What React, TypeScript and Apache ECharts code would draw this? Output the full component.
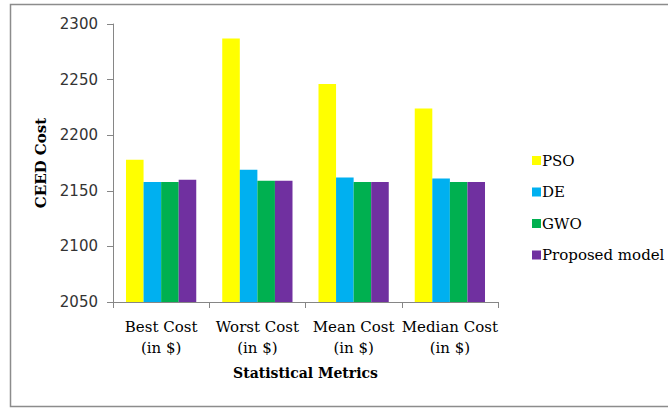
import React, { useEffect, useRef } from "react";
import * as echarts from "echarts";

const categories = ["Best Cost\n(in $)", "Worst Cost\n(in $)", "Mean Cost\n(in $)", "Median Cost\n(in $)"];
const seriesNames = ["PSO", "DE", "GWO", "Proposed model"];
const psoValues = [2178, 2287, 2246, 2224];
const deValues = [2158, 2169, 2162, 2161];
const gwoValues = [2158, 2159, 2158, 2158];
const proposedValues = [2160, 2159, 2158, 2158];
const colors = ["#FFFF00", "#00B0F0", "#00B050", "#7030A0"];

export default function App() {
  const ref = useRef<HTMLDivElement>(null);
  useEffect(() => {
    if (!ref.current) return;
    const chart = echarts.init(ref.current, null, { renderer: "svg" });
    const data = [psoValues, deValues, gwoValues, proposedValues];
    chart.setOption({
      animation: false,
      backgroundColor: "#ffffff",
      graphic: [
        {
          type: "rect",
          shape: { x: 10.5, y: 4.5, width: 670, height: 402 },
          style: { fill: "none", stroke: "#8c8c8c", lineWidth: 1.5 },
          silent: true,
        },
      ],
      grid: { left: 113, right: 170, top: 24, bottom: 107, containLabel: false },
      legend: {
        orient: "vertical",
        left: 527,
        top: 148,
        itemWidth: 9,
        itemHeight: 9,
        itemGap: 16.5,
        icon: "rect",
        data: seriesNames,
        textStyle: { fontFamily: "DejaVu Serif", fontSize: 15, color: "#000", lineHeight: 15, padding: [0, 0, 0, -4] },
      },
      xAxis: {
        type: "category",
        data: categories,
        axisLine: { lineStyle: { color: "#868686", width: 1 } },
        axisTick: { show: true, alignWithLabel: false, length: 6, lineStyle: { color: "#868686" } },
        axisLabel: {
          fontFamily: "DejaVu Serif",
          fontSize: 15,
          color: "#000",
          lineHeight: 21,
          margin: 14,
          interval: 0,
        },
        name: "Statistical Metrics",
        nameLocation: "middle",
        nameGap: 64,
        nameTextStyle: { fontFamily: "DejaVu Serif", fontWeight: "bold", fontSize: 14, color: "#000" },
      },
      yAxis: {
        type: "value",
        min: 2050,
        max: 2300,
        interval: 50,
        splitLine: { show: false },
        axisLine: { show: true, lineStyle: { color: "#868686", width: 1 } },
        axisTick: { show: true, length: 6, lineStyle: { color: "#868686" } },
        axisLabel: {
          fontFamily: "DejaVu Sans",
          fontSize: 15,
          color: "#333",
          margin: 15,
          formatter: (v: number) => String(v),
        },
        name: "CEED Cost",
        nameLocation: "middle",
        nameGap: 64,
        nameTextStyle: { fontFamily: "DejaVu Serif", fontWeight: "bold", fontSize: 15, color: "#000" },
      },
      series: seriesNames.map((name, i) => ({
        name,
        type: "bar",
        data: data[i],
        barGap: "0%",
        barCategoryGap: "27%",
        itemStyle: { color: colors[i] },
      })),
    });
    return () => chart.dispose();
  }, []);
  return (
    <div
      ref={ref}
      style={{ position: "fixed", left: 0, top: 0, width: 668, height: 409 }}
    />
  );
}
